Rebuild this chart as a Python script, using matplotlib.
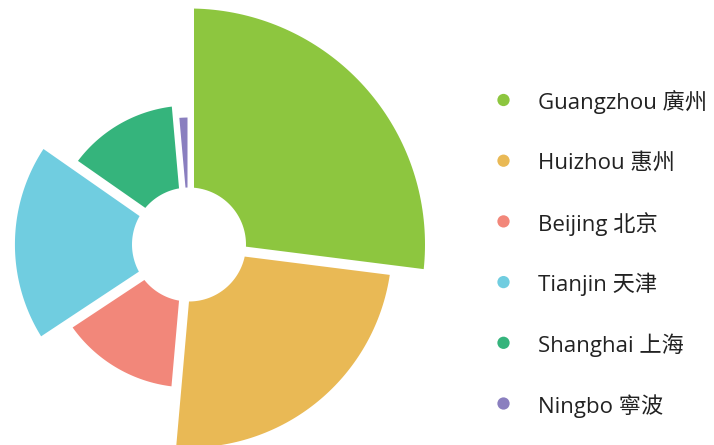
import numpy as np
import matplotlib.pyplot as plt
from matplotlib.patches import Polygon

plt.rcParams['font.family'] = ['Open Sans', 'Noto Sans CJK SC', 'DejaVu Sans']

cities = ['Guangzhou 廣州', 'Huizhou 惠州', 'Beijing 北京',
          'Tianjin 天津', 'Shanghai 上海', 'Ningbo 寧波']
# angular share (%) and radial score of each slice
share = [27.0, 24.4, 14.3, 19.0, 13.9, 1.4]
score = [100, 81.6, 48.0, 65.4, 45.8, 39.1]
colors = ['#8dc63f', '#e9b955', '#f2877a', '#70cde0', '#35b47c', '#8a7fbf']

# layout in pixels
cx, cy = 189, 244.5
r_in, r_max = 57, 236
gap = 10


def to_xy(ang, r):
    a = np.radians(ang)
    return cx + r * np.sin(a), cy - r * np.cos(a)


def slice_points(a0, a1, r_out):
    h = gap / 2
    if a1 - a0 <= 2 * np.degrees(np.arcsin(h / r_in)):
        h = 1.5  # thin slice: use a small pad so it stays visible
    d_out = np.degrees(np.arcsin(h / r_out))
    d_in = np.degrees(np.arcsin(h / r_in))
    t_out = np.linspace(a0 + d_out, a1 - d_out, 80)
    t_in = np.linspace(a1 - d_in, a0 + d_in, 40)
    xo, yo = to_xy(t_out, r_out)
    xi, yi = to_xy(t_in, r_in)
    return np.column_stack([np.r_[xo, xi], np.r_[yo, yi]])


fig = plt.figure(figsize=(7.14, 4.45), dpi=100)
ax = fig.add_axes([0, 0, 1, 1])
ax.set_xlim(0, 714)
ax.set_ylim(445, 0)
ax.set_aspect('equal')
ax.axis('off')

edges = np.r_[0, np.cumsum(share)] / sum(share) * 360
for i in range(len(cities)):
    r_out = r_in + (r_max - r_in) * score[i] / max(score)
    pts = slice_points(edges[i], edges[i + 1], r_out)
    ax.add_patch(Polygon(pts, closed=True, facecolor=colors[i], edgecolor='none'))

# legend
for i, name in enumerate(cities):
    y = 100 + i * 60.7
    ax.scatter([503.5], [y], s=78, color=colors[i], edgecolor='none')
    ax.text(538, y + 2.5, name, fontsize=16, color='#222222', va='center', ha='left')

fig.savefig('out.png', dpi=100)
